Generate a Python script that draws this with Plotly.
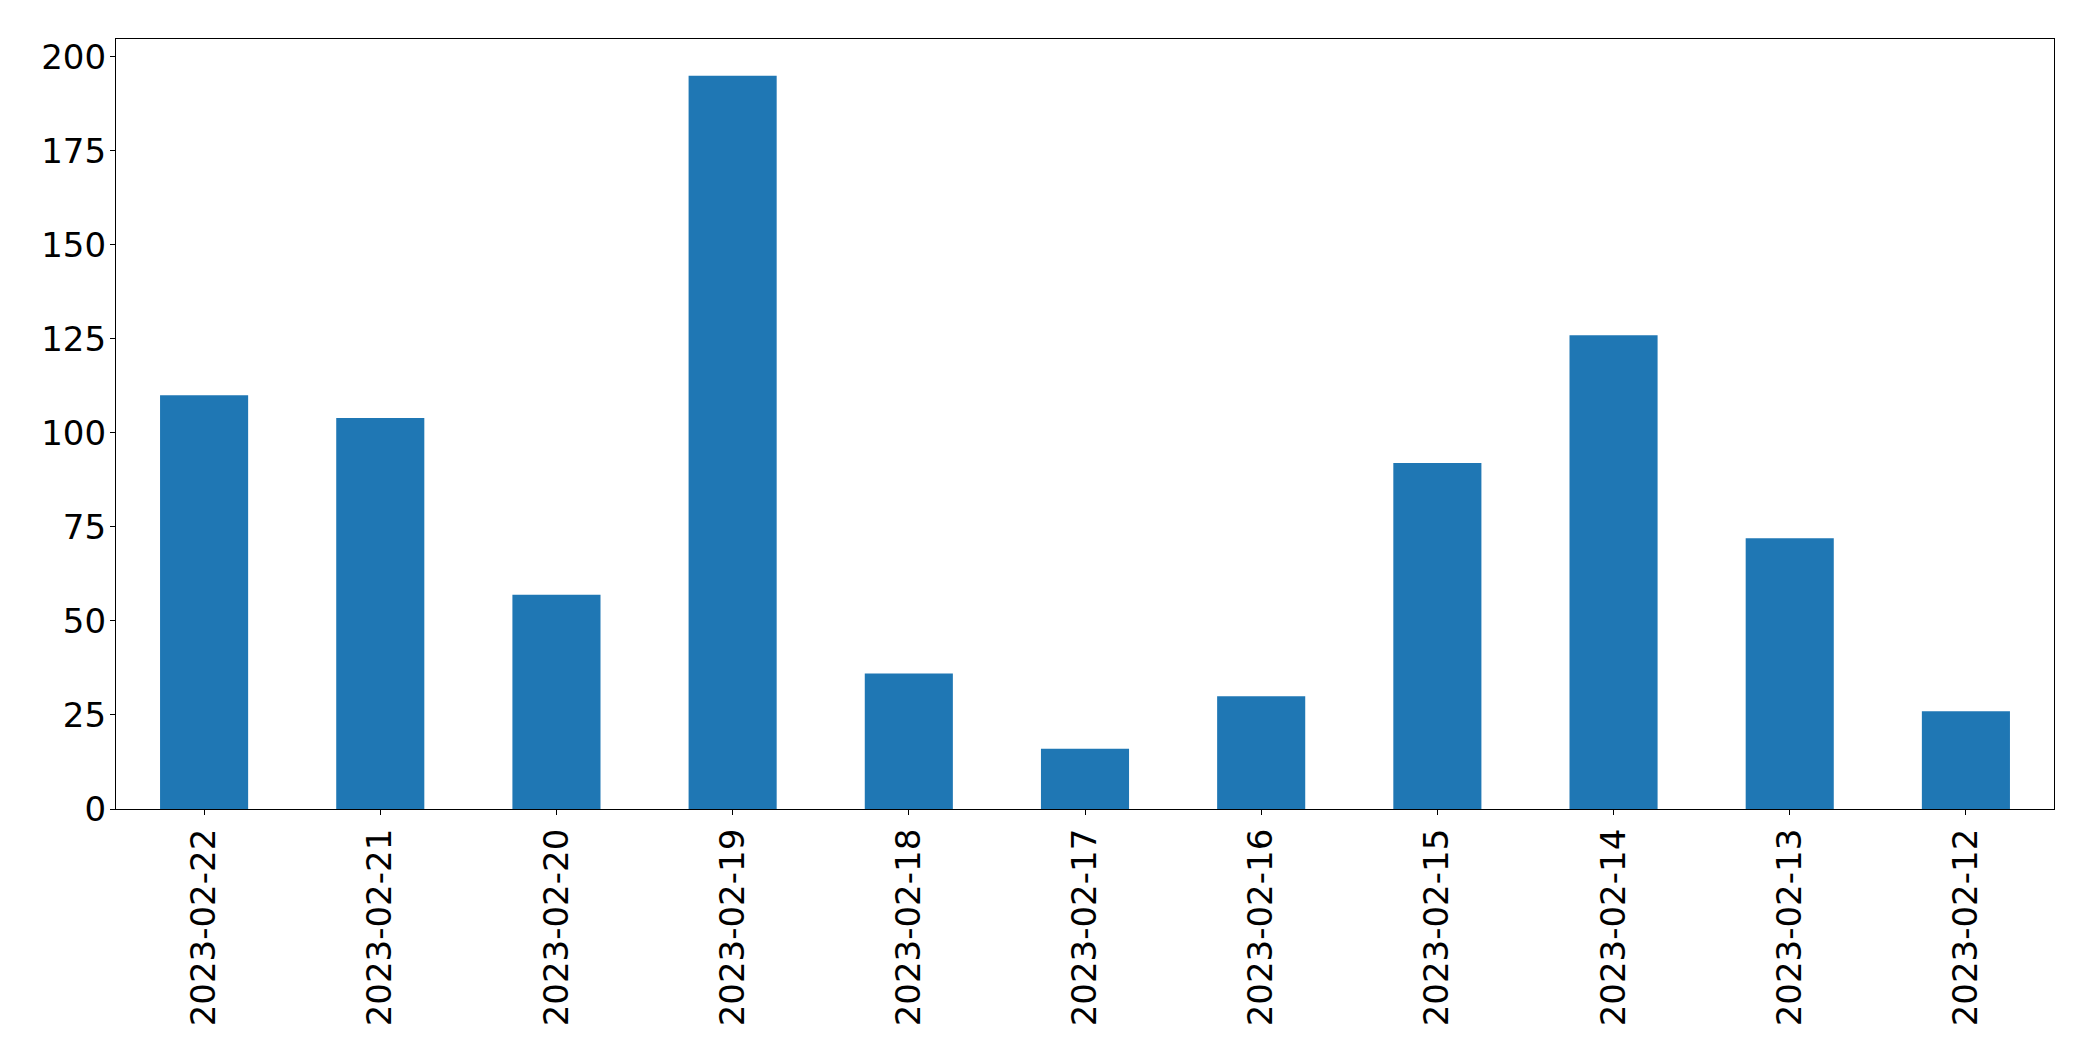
import plotly.graph_objects as go

dates = ["2023-02-22", "2023-02-21", "2023-02-20", "2023-02-19", "2023-02-18",
         "2023-02-17", "2023-02-16", "2023-02-15", "2023-02-14", "2023-02-13", "2023-02-12"]
values = [110, 104, 57, 195, 36, 16, 30, 92, 126, 72, 26]
y_ticks = [0, 25, 50, 75, 100, 125, 150, 175, 200]

fig = go.Figure(go.Bar(x=dates, y=values, marker=dict(color="#1f77b4", line=dict(width=0))))

# page body has an 8px margin, so the figure is sized to fit inside the window
fig.update_layout(
    width=2085, height=1053,
    margin=dict(l=108, r=39, t=31, b=252, autoexpand=False),
    plot_bgcolor="white", paper_bgcolor="white",
    bargap=0.5,
    font=dict(family="DejaVu Sans", size=34, color="black"),
    showlegend=False,
)
fig.update_xaxes(
    type="category", range=[-0.5, 10.5], tickangle=-90, automargin=False,
    showline=True, linecolor="black", linewidth=1.3, mirror=True,
    ticks="outside", ticklen=5, tickcolor="black", showgrid=False,
    tickfont=dict(family="DejaVu Sans", size=34, color="black"),
    ticklabelstandoff=0,
)
fig.update_yaxes(
    range=[0, 204.75], tickvals=y_ticks, automargin=False,
    showline=True, linecolor="black", linewidth=1.3, mirror=True,
    ticks="outside", ticklen=5, tickcolor="black", showgrid=False, zeroline=False,
    tickfont=dict(family="DejaVu Sans", size=34, color="black"),
    ticklabelstandoff=-3,
)
fig.write_html("out.html")
